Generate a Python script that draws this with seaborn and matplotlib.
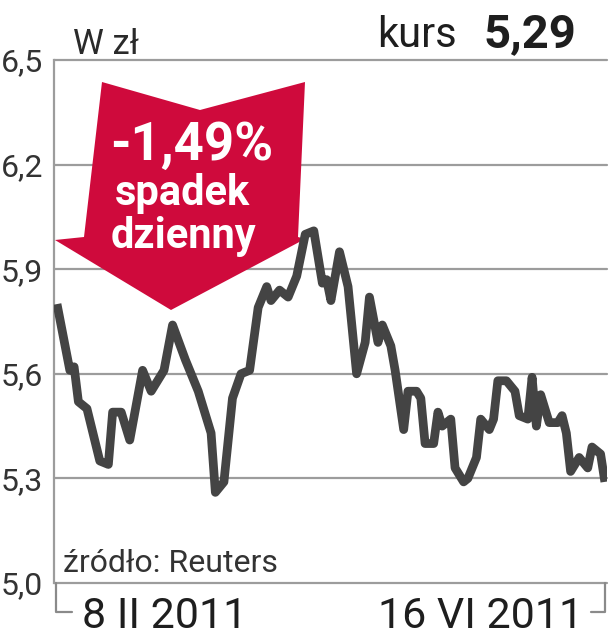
import matplotlib
matplotlib.use("Agg")
import matplotlib.pyplot as plt
import seaborn as sns
import pandas as pd
from matplotlib.patches import Polygon
from matplotlib.lines import Line2D

# ---- data ----
days = [0, 3, 4, 5, 7, 10, 12, 13, 15, 17, 20, 22, 25, 27, 30, 33, 36, 37, 39, 41,
        43, 45, 47, 49, 50, 52, 54, 56, 58, 60, 62, 63, 64, 66, 68, 70, 72, 73, 75, 76,
        78, 79, 81, 82, 84, 85, 86, 88, 89, 90, 92, 93, 95, 96, 98, 99, 101, 102, 103, 105,
        107, 108, 110, 111, 112, 113, 115, 117, 118, 119, 120, 122, 124, 125, 127, 128]
prices = [5.80, 5.61, 5.62, 5.52, 5.50, 5.35, 5.34, 5.49, 5.49, 5.41, 5.61, 5.55, 5.61, 5.74, 5.64, 5.55, 5.43, 5.26, 5.29, 5.53,
          5.60, 5.61, 5.79, 5.85, 5.81, 5.84, 5.82, 5.88, 6.00, 6.01, 5.86, 5.87, 5.81, 5.95, 5.85, 5.60, 5.69, 5.82, 5.69, 5.74,
          5.68, 5.61, 5.44, 5.55, 5.55, 5.53, 5.40, 5.40, 5.49, 5.45, 5.47, 5.33, 5.29, 5.30, 5.36, 5.47, 5.44, 5.47, 5.58, 5.58,
          5.55, 5.48, 5.47, 5.59, 5.45, 5.54, 5.46, 5.46, 5.48, 5.43, 5.32, 5.36, 5.33, 5.39, 5.37, 5.29]
yticks = [5.0, 5.3, 5.6, 5.9, 6.2, 6.5]
ytick_labels = ["5,0", "5,3", "5,6", "5,9", "6,2", "6,5"]
start_label = "8 II 2011"
end_label = "16 VI 2011"
unit_label = "W zł"
kurs_label = "kurs"
kurs_value = "5,29"
change_label = "-1,49%"
change_text = ["spadek", "dzienny"]
source_label = "źródło: Reuters"

df = pd.DataFrame({"day": days, "price": prices})

sns.set_theme(style="white")
plt.rcParams["font.family"] = ["Roboto", "DejaVu Sans"]

W, H = 610, 640
fig = plt.figure(figsize=(W / 100, H / 100), dpi=100)
fx = lambda px: px / W
fy = lambda py: 1 - py / H

ax = fig.add_axes([fx(54), fy(583), fx(607) - fx(54), fy(60) - fy(583)])
ax.set_facecolor("white")

grid_col = "#9c9c9c"
for t in yticks:
    ax.axhline(t, color=grid_col, lw=1.6, clip_on=False, zorder=1)

sns.lineplot(data=df, x="day", y="price", ax=ax, color="#444444", lw=6.3,
             solid_joinstyle="round", solid_capstyle="butt", zorder=5)

ax.set_xlim(-0.7, 128.5)
ax.set_ylim(5.0, 6.5)
ax.set_yticks(yticks)
ax.set_yticklabels(ytick_labels, fontsize=23, color="#333333")
ax.set_xticks([])
ax.tick_params(axis="y", length=0, pad=8)
ax.set_xlabel("")
ax.set_ylabel("")
for s in ["top", "right", "bottom"]:
    ax.spines[s].set_visible(False)
ax.spines["left"].set_color(grid_col)
ax.spines["left"].set_linewidth(1.6)

# ---- red arrow ----
red = "#cf0a3c"
arrow_px = [(102, 82), (200, 110), (305, 82), (298, 237), (305, 239),
            (171, 310), (55, 240), (84, 237)]
arrow = Polygon([(fx(x), fy(y)) for x, y in arrow_px], closed=True,
                transform=fig.transFigure, facecolor=red, edgecolor="none",
                zorder=3, clip_on=False)
ax.add_patch(arrow)
fig.text(fx(192), fy(160), change_label, color="white", fontsize=38,
         fontweight="bold", ha="center", va="baseline", zorder=6)
fig.text(fx(183), fy(205), change_text[0], color="white", fontsize=30,
         fontweight="bold", ha="center", va="baseline", zorder=6)
fig.text(fx(183), fy(248), change_text[1], color="white", fontsize=30,
         fontweight="bold", ha="center", va="baseline", zorder=6)

# ---- header texts ----
dark = "#1e1e1e"
fig.text(fx(73), fy(54), unit_label, fontsize=25, color="#2a2a2a", ha="left", va="baseline")
fig.text(fx(377), fy(47), kurs_label, fontsize=30, color=dark, ha="left", va="baseline")
fig.text(fx(483), fy(47), kurs_value, fontsize=34, color=dark, fontweight="bold",
         ha="left", va="baseline")

# ---- source ----
fig.text(fx(63), fy(572), source_label, fontsize=23, color="#333333", ha="left", va="baseline")

# ---- date labels and brackets ----
fig.text(fx(82), fy(628), start_label, fontsize=31, color=dark, ha="left", va="baseline")
fig.text(fx(583), fy(628), end_label, fontsize=31, color=dark, ha="right", va="baseline")
br_col = "#8a8a8a"
fig.add_artist(Line2D([fx(56), fx(56), fx(72)], [fy(583), fy(612), fy(612)],
                      color=br_col, lw=1.6, transform=fig.transFigure))
fig.add_artist(Line2D([fx(591), fx(605), fx(605)], [fy(612), fy(612), fy(583)],
                      color=br_col, lw=1.6, transform=fig.transFigure))

fig.savefig("out.png", dpi=100, facecolor="white")
